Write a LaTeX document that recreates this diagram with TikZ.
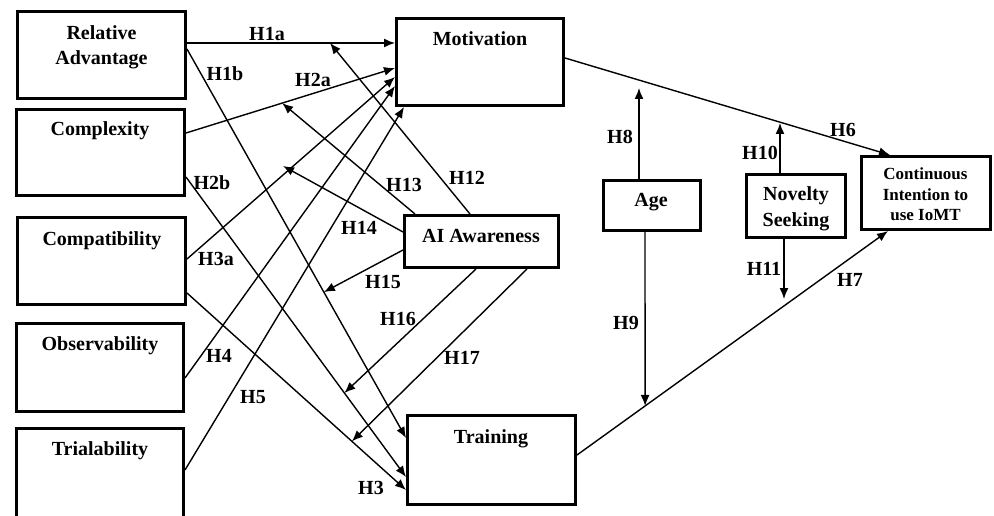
\documentclass[tikz,border=0pt]{standalone}
\usepackage{fontspec}
\setmainfont{Liberation Serif}
\usetikzlibrary{arrows.meta}
\begin{document}
\begin{tikzpicture}[x=1pt,y=-1pt,
  box/.style={draw, line width=3pt, inner sep=0pt},
  arr/.style={-{Latex[length=11pt,width=9pt]}, line width=1.4pt},
  txt/.style={font=\fontsize{20}{25}\selectfont\bfseries, inner sep=0pt, align=center},
  stxt/.style={font=\fontsize{17}{20.5}\selectfont\bfseries, inner sep=0pt, align=center},
  hl/.style={font=\fontsize{20}{25}\selectfont\bfseries, inner sep=0pt}]
\useasboundingbox (0,0) rectangle (994,516);
\fill[white] (0,0) rectangle (994,516);

% boxes
\node[box, minimum width=168, minimum height=87] (ra)  at (101.5,55) {};
\node[box, minimum width=168, minimum height=86] (cx)  at (100.5,152.5) {};
\node[box, minimum width=168, minimum height=87] (cp)  at (101.5,261) {};
\node[box, minimum width=167, minimum height=88] (ob)  at (100,367.5) {};
\node[box, minimum width=167, minimum height=94] (tr)  at (100,475.5) {};
\node[box, minimum width=167, minimum height=87] (mot) at (480,62) {};
\node[box, minimum width=154, minimum height=52] (ai)  at (481.5,241.5) {};
\node[box, minimum width=97,  minimum height=50] (age) at (652,205.5) {};
\node[box, minimum width=168, minimum height=89] (trn) at (491.5,460) {};
\node[box, minimum width=99,  minimum height=63] (nov) at (796,206) {};
\node[box, minimum width=129, minimum height=73] (ci)  at (926,193) {};

% box texts
\node[txt] (tra) at (101.5,47) {Relative\\Advantage};
\node[txt, anchor=base] (tcx) at (100,136) {Complexity};
\node[txt, anchor=base] (tcp) at (102,245) {Compatibility};
\node[txt, anchor=base] (tob) at (100,350) {Observability};
\node[txt, anchor=base] (ttr) at (100,455) {Trialability};
\node[txt, anchor=base] (tmot) at (480,46) {Motivation};
\node[txt, anchor=base] (tai) at (481,243) {AI Awareness};
\node[txt, anchor=base] (tage) at (651,207) {Age};
\node[txt, anchor=base] (ttrn) at (491,443) {Training};
\node[txt] (tnov) at (796,208.5) {Novelty\\[1pt]Seeking};
\node[stxt] (tci) at (925.5,194.7) {Continuous\\Intention to\\use IoMT};

% main paths
\draw[arr] (ra.east |- 0,43) -- coordinate[pos=0.6875] (m12) (mot.west |- 0,43);
\draw[arr] (ra.east |- 0,49) -- coordinate[pos=0.625] (m15) (trn.west |- 0,438);
\draw[arr] (cx.east |- 0,133) -- coordinate[pos=0.46] (m13) (mot.west |- 0,68);
\draw[arr] (cx.east |- 0,177) -- coordinate[pos=0.72] (m16) (trn.west |- 0,477);
\draw[arr] (cp.east |- 0,259) -- (mot.west |- 0,77);
\draw[arr] (cp.east |- 0,293) -- coordinate[pos=0.753] (m17) (trn.west |- 0,490);
\draw[arr] (ob.east |- 0,378) -- (mot.west |- 0,86);
\draw[arr] (tr.east |- 0,470) -- (mot.south -| 404,0);
\draw[arr] (mot.east |- 0,58) -- (ci.north -| 890,0);
\draw[arr] (trn.east |- 0,455) -- coordinate[pos=0.219] (m9) (ci.south -| 888,0);

% moderating arrows
\coordinate (m14) at (283,166);
\draw[arr] (ai.north -| 470,0) -- (m12);
\draw[arr] (ai.north -| 415,0) -- (m13);
\draw[arr] (ai.west |- 0,232) -- (m14);
\draw[arr] (ai.west |- 0,250) -- (m15);
\draw[arr] (ai.south -| 476,0) -- (m16);
\draw[arr] (ai.south -| 527,0) -- (m17);

\coordinate (t8) at (639,88);
\coordinate (t10) at (780,123);
\coordinate (t11) at (784,299);
\draw[arr] (age.north -| 639,0) -- (t8);
\draw[arr] (age.south -| 645,0) -- (m9);
\draw[arr] (nov.north -| 780,0) -- (t10);
\draw[arr] (nov.south -| 784,0) -- (t11);

% hypothesis labels
\node[hl] (l1a) at (267,34) {H1a};
\node[hl] (l1b) at (225,74) {H1b};
\node[hl] (l2a) at (313,80) {H2a};
\node[hl] (l2b) at (212,183) {H2b};
\node[hl] (l3a) at (216,259) {H3a};
\node[hl] (l4) at (219,356) {H4};
\node[hl] (l5) at (253,397) {H5};
\node[hl] (l3) at (371,488) {H3};
\node[hl] (l12) at (467,178) {H12};
\node[hl] (l13) at (404,185) {H13};
\node[hl] (l14) at (359,228) {H14};
\node[hl] (l15) at (383,282) {H15};
\node[hl] (l16) at (398,319) {H16};
\node[hl] (l17) at (462,358) {H17};
\node[hl] (l6) at (843,130) {H6};
\node[hl] (l7) at (850,280) {H7};
\node[hl] (l8) at (620,137) {H8};
\node[hl] (l9) at (626,323) {H9};
\node[hl] (l10) at (760,153) {H10};
\node[hl] (l11) at (764,269) {H11};
\end{tikzpicture}
\end{document}
